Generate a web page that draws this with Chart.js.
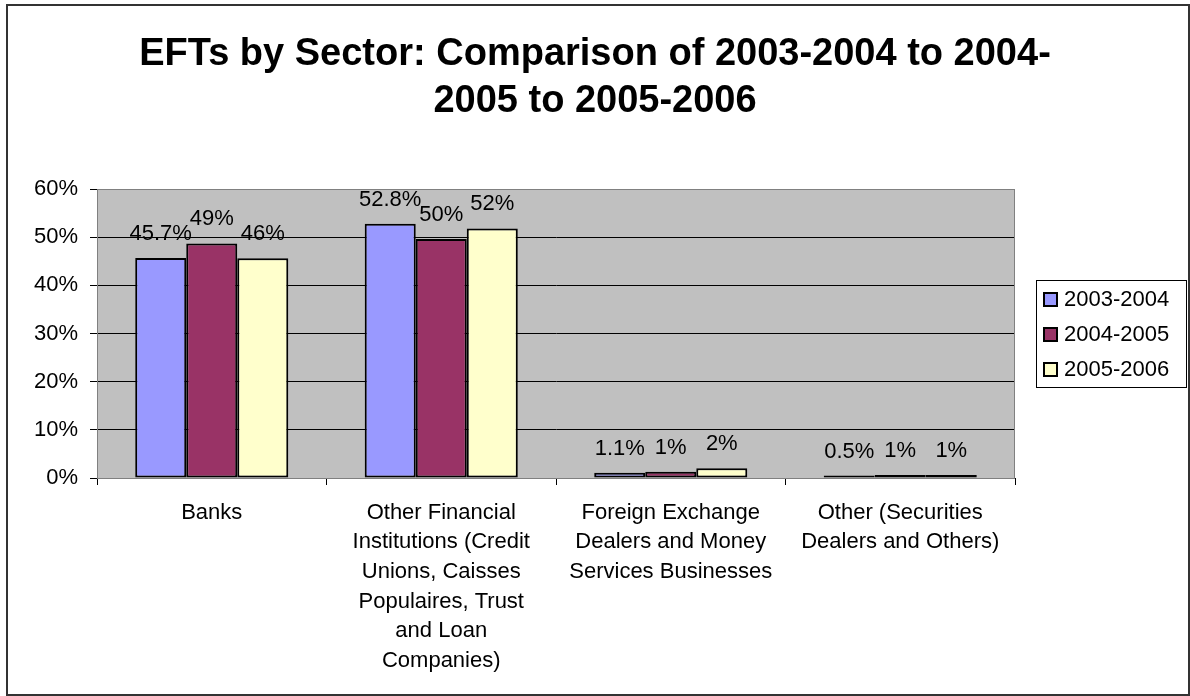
<!DOCTYPE html>
<html lang="en">
<head>
  <meta charset="UTF-8">
  <title>EFTs by Sector</title>
  <script src="https://cdn.jsdelivr.net/npm/chart.js@4.4.0/dist/chart.umd.min.js"></script>
  <style>
    body { margin: 0; background: #fff; }
  </style>
</head>
<body>
  <canvas id="chart" width="1190" height="696"></canvas>
  <script>
    const titleLines = ['EFTs by Sector: Comparison of 2003-2004 to 2004-', '2005 to 2005-2006'];
    const categories = [
      ['Banks'],
      ['Other Financial', 'Institutions (Credit', 'Unions, Caisses', 'Populaires, Trust', 'and Loan', 'Companies)'],
      ['Foreign Exchange', 'Dealers and Money', 'Services Businesses'],
      ['Other (Securities', 'Dealers and Others)']
    ];
    const seriesNames = ['2003-2004', '2004-2005', '2005-2006'];
    const values0304 = [45.7, 52.8, 1.1, 0.5];
    const values0405 = [48.7, 49.6, 1.3, 0.6];
    const values0506 = [45.6, 51.8, 2.0, 0.6];
    const labelDecimals = [1, 0, 0];
    const colors = ['#9999FF', '#993366', '#FFFFCC'];
    const yMin = 0, yMax = 60, yStep = 10;

    const FONT = '"Liberation Sans", Arial, sans-serif';

    // background, gray plot area, title and frames
    const decor = {
      id: 'decor',
      beforeDraw(chart) {
        const { ctx, chartArea: a } = chart;
        ctx.save();
        ctx.fillStyle = '#fff';
        ctx.fillRect(0, 0, chart.width, chart.height);
        ctx.fillStyle = '#C0C0C0';
        ctx.fillRect(a.left, a.top, a.right - a.left, a.bottom - a.top);
        ctx.restore();
      },
      afterDraw(chart) {
        const { ctx, chartArea: a } = chart;
        ctx.save();
        ctx.strokeStyle = '#808080';
        ctx.lineWidth = 1;
        ctx.strokeRect(a.left + 0.5, a.top + 0.5, a.right - a.left - 1, a.bottom - a.top);
        // title
        ctx.fillStyle = '#000';
        ctx.font = 'bold 38px ' + FONT;
        ctx.textAlign = 'center';
        ctx.textBaseline = 'alphabetic';
        titleLines.forEach((t, i) => ctx.fillText(t, chart.width / 2, 65 + i * 47));
        // outer border
        ctx.strokeStyle = '#333';
        ctx.lineWidth = 2;
        ctx.strokeRect(7, 5, 1182, 690);
        ctx.restore();
      }
    };

    // value labels above bars
    const barLabels = {
      id: 'barLabels',
      afterDatasetsDraw(chart) {
        const ctx = chart.ctx;
        ctx.save();
        ctx.font = '22px ' + FONT;
        ctx.fillStyle = '#000';
        ctx.textAlign = 'center';
        ctx.textBaseline = 'alphabetic';
        chart.data.datasets.forEach((ds, i) => {
          chart.getDatasetMeta(i).data.forEach((bar, j) => {
            ctx.fillText(ds.data[j].toFixed(labelDecimals[i]) + '%', bar.x, bar.y - 18);
          });
        });
        ctx.restore();
      }
    };

    // boxed legend on the right
    const boxLegend = {
      id: 'boxLegend',
      afterDraw(chart) {
        const ctx = chart.ctx;
        ctx.save();
        ctx.strokeStyle = '#000';
        ctx.lineWidth = 1;
        ctx.strokeRect(1036.5, 280.5, 150, 107);
        ctx.font = '22px ' + FONT;
        ctx.textBaseline = 'middle';
        ctx.textAlign = 'left';
        chart.data.datasets.forEach((ds, i) => {
          const y = 299 + i * 35;
          ctx.fillStyle = ds.backgroundColor;
          ctx.fillRect(1044, y - 6, 13, 13);
          ctx.lineWidth = 2;
          ctx.strokeStyle = '#000';
          ctx.strokeRect(1044, y - 6, 13, 13);
          ctx.fillStyle = '#000';
          ctx.fillText(ds.label, 1064, y + 1);
        });
        ctx.restore();
      }
    };

    const ctx = document.getElementById('chart').getContext('2d');
    new Chart(ctx, {
      type: 'bar',
      data: {
        labels: categories,
        datasets: [values0304, values0405, values0506].map((vals, i) => ({
          label: seriesNames[i],
          data: vals,
          backgroundColor: colors[i],
          borderColor: '#000',
          borderWidth: 2,
          borderSkipped: false,
          barPercentage: 1,
          categoryPercentage: 0.667
        }))
      },
      options: {
        responsive: false,
        animation: false,
        devicePixelRatio: 1,
        layout: { padding: { left: 0, right: 175, top: 189, bottom: 0 } },
        plugins: {
          legend: { display: false },
          tooltip: { enabled: false },
          title: { display: false }
        },
        scales: {
          x: {
            afterFit(s) { s.height = 218; },
            grid: { display: true, drawOnChartArea: false, drawTicks: true, tickLength: 7, color: '#000', offset: true },
            border: { display: true, color: '#000', width: 1 },
            ticks: {
              color: '#000',
              padding: 13,
              maxRotation: 0,
              autoSkip: false,
              font: { family: FONT, size: 22, lineHeight: 29.6 / 22 }
            }
          },
          y: {
            min: yMin,
            max: yMax,
            afterFit(s) { s.width = 97; },
            grid: { color: '#000', lineWidth: 1, drawTicks: true, tickLength: 7 },
            border: { display: true, color: '#808080', width: 1 },
            ticks: {
              stepSize: yStep,
              color: '#000',
              padding: 12,
              font: { family: FONT, size: 22 },
              callback: v => v + '%'
            }
          }
        }
      },
      plugins: [decor, barLabels, boxLegend]
    });
  </script>
</body>
</html>
